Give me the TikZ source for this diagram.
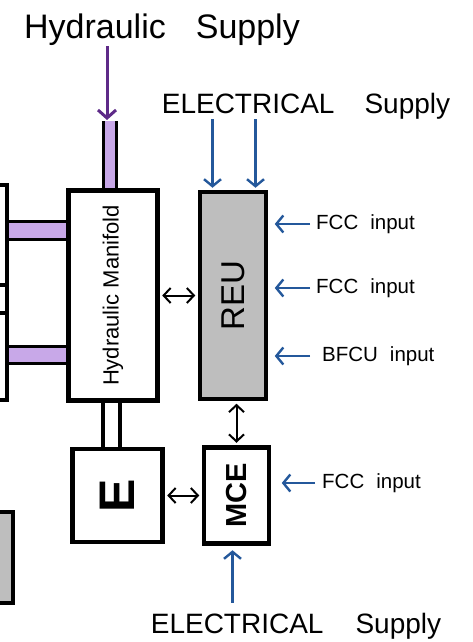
\documentclass[tikz,border=0pt]{standalone}
\usepackage{fontspec}
\setmainfont{Liberation Sans}
\usetikzlibrary{arrows.meta,positioning}
\definecolor{pipefill}{RGB}{200,168,232}
\definecolor{hydpurple}{RGB}{94,42,136}
\definecolor{elecblue}{RGB}{36,88,155}
\definecolor{reugray}{RGB}{190,190,190}

\begin{document}
\begin{tikzpicture}[
    x=1pt, y=-1pt,
    unit/.style={draw, line width=4.5pt, inner sep=0pt, align=center},
    hydlabel/.style={font=\fontsize{34}{40}\selectfont, inner sep=0pt, anchor=base},
    eleclabel/.style={font=\fontsize{28}{34}\selectfont, inner sep=0pt, anchor=base},
    inlabel/.style={font=\fontsize{20.5}{24}\selectfont, inner sep=0pt, anchor=west},
    link/.style={{Straight Barb[length=7pt,width=15pt]}-{Straight Barb[length=7pt,width=15pt]}, line width=2pt, shorten <=2.5pt, shorten >=2.5pt},
    elec/.style={-{Straight Barb[length=7pt,width=17pt]}, line width=2.4pt, draw=elecblue},
    hyd/.style={-{Straight Barb[length=8pt,width=18pt]}, line width=3pt, draw=hydpurple},
    pipe/.style={line width=3pt}
  ]
    \useasboundingbox (0,0) rectangle (473,642);

    \node[hydlabel] (hydsup) at (162,39) {Hydraulic\hspace{30pt}Supply};
    \node[eleclabel] (electop) at (306,113) {ELECTRICAL\hspace{30pt}Supply};
    \node[eleclabel] (elecbot) at (296,633) {ELECTRICAL\hspace{32pt}Supply};

    \node[unit, minimum width=89pt, minimum height=210pt, font=\fontsize{22}{26}\selectfont] (manifold) at (113,295.5) {\rotatebox{90}{Hydraulic Manifold}};
    \node[unit, fill=reugray, minimum width=66pt, minimum height=207pt, right=38pt of manifold, font=\fontsize{33}{40}\selectfont] (reu) {\rotatebox{90}{REU}};
    \node[unit, minimum width=90pt, minimum height=93pt, below=44pt of manifold, xshift=4.5pt, font=\fontsize{50}{60}\selectfont\bfseries] (ebox) {\rotatebox{90}{E}};
    \node[unit, minimum width=65pt, minimum height=96pt, right=37pt of ebox, font=\fontsize{29}{35}\selectfont\bfseries] (mce) {\rotatebox{90}{MCE}};

    \node[inlabel] (fcca) at (316,224) {FCC\hspace{12pt}input};
    \node[inlabel] (fccb) at (316,288) {FCC\hspace{12pt}input};
    \node[inlabel] (bfcu) at (322,356) {BFCU\hspace{12pt}input};
    \node[inlabel] (fccc) at (322,483) {FCC\hspace{12pt}input};

    \fill[pipefill] (103.5,121) rectangle (116,188);
    \draw[pipe] (103.5,121) -- (103.5,188) (116,121) -- (116,188);
    \fill[pipefill] (7,221) rectangle (66,239);
    \draw[pipe] (7,221) -- (66,221) (7,239) -- (66,239);
    \fill[pipefill] (7,346.5) rectangle (66,363.5);
    \draw[pipe] (7,346.5) -- (66,346.5) (7,363.5) -- (66,363.5);

    \draw[line width=4pt] (-5,185) -| (7,400) -- (-5,400);
    \draw[line width=4pt] (-5,285) -- (7,285) (-5,313) -- (7,313);
    \filldraw[fill=reugray, line width=4pt] (-5,512) -| (12.5,603) -- (-5,603);

    \coordinate (pipetop) at (107,120);
    \draw[hyd] (pipetop |- hydsup.south) -- (pipetop);

    \coordinate (reuina) at ([xshift=-20.5pt]reu.north);
    \coordinate (reuinb) at ([xshift=22.5pt]reu.north);
    \draw[elec, shorten >=2pt] (reuina |- electop.south) -- (reuina);
    \draw[elec, shorten >=2pt] (reuinb |- electop.south) -- (reuinb);

    \coordinate (mcein) at ([xshift=-4pt]mce.south);
    \draw[elec, shorten >=4.5pt] ([yshift=10pt]mcein |- elecbot.north) -- (mcein);

    \draw[elec, shorten <=6pt, shorten >=6.5pt] (fcca.west) -- (fcca.west -| reu.east);
    \draw[elec, shorten <=6pt, shorten >=6.5pt] (fccb.west) -- (fccb.west -| reu.east);
    \draw[elec, shorten <=12pt, shorten >=6.5pt] (bfcu.west) -- (bfcu.west -| reu.east);
    \draw[elec, shorten <=7pt, shorten >=10.5pt] (fccc.west) -- (fccc.west -| mce.east);

    \draw[line width=4pt] ([xshift=-10pt]manifold.south) -- ([xshift=-10pt]manifold.south |- ebox.north);
    \draw[line width=4pt] ([xshift=7pt]manifold.south) -- ([xshift=7pt]manifold.south |- ebox.north);

    \draw[link] (manifold.east |- reu.west) -- (reu.west);
    \draw[link] (reu.south -| mce.north) -- (mce.north);
    \draw[link] (ebox.east) -- (ebox.east -| mce.west);
  \end{tikzpicture}
\end{document}
